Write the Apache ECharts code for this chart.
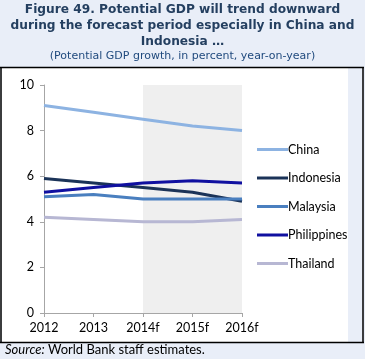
<!DOCTYPE html>
<html><head><meta charset="utf-8">
<script src="https://cdn.jsdelivr.net/npm/echarts@6/dist/echarts.min.js"></script>
<style>
html,body{margin:0;padding:0;background:#e9eef8;}
#c{width:365px;height:359px;}
</style></head>
<body><div id="c"></div>
<script>
const categories = ['2012','2013','2014f','2015f','2016f'];
const china = [9.1, 8.8, 8.5, 8.2, 8.0];
const indonesia = [5.9, 5.7, 5.5, 5.3, 4.9];
const malaysia = [5.1, 5.2, 5.0, 5.0, 5.0];
const philippines = [5.3, 5.5, 5.7, 5.8, 5.7];
const thailand = [4.2, 4.1, 4.0, 4.0, 4.1];
const yTicks = [0, 2, 4, 6, 8, 10];
const forecastRange = ['2014f', '2016f'];

const names = ['China','Indonesia','Malaysia','Philippines','Thailand'];
const datas = [china, indonesia, malaysia, philippines, thailand];
const colors = ['#8db3e2','#1b3358','#4a7fbf','#1010a0','#b7b7d3'];
const font = 'Lato, "Open Sans", sans-serif';

const chart = echarts.init(document.getElementById('c'));
const series = names.map((n,i)=>({
  name:n, type:'line', data:datas[i], symbol:'none', smooth:false,
  lineStyle:{width:3,color:colors[i]}, itemStyle:{color:colors[i]},
  z: 3 + i
}));
series[0].markArea = {silent:true, itemStyle:{color:'#efefef'}, data:[[{xAxis:forecastRange[0]},{xAxis:forecastRange[1]}]]};

chart.setOption({
  animation:false,
  backgroundColor:'transparent',
  graphic:[
    {type:'rect', shape:{x:2,y:68,width:346,height:274}, style:{fill:'#ffffff'}, z:-10, silent:true},
    {type:'line', shape:{x1:0,y1:67.5,x2:364,y2:67.5}, style:{stroke:'#000',lineWidth:1.5}, silent:true},
    {type:'line', shape:{x1:1,y1:67,x2:1,y2:343}, style:{stroke:'#000',lineWidth:1.5}, silent:true},
    {type:'line', shape:{x1:363,y1:67,x2:363,y2:343}, style:{stroke:'#000',lineWidth:1.5}, silent:true},
    {type:'line', shape:{x1:0,y1:342.5,x2:364,y2:342.5}, style:{stroke:'#000',lineWidth:1.5}, silent:true},
    {type:'text', left:'center', top:2, style:{text:'Figure 49. Potential GDP will trend downward\nduring the forecast period especially in China and\nIndonesia …', font:'bold 12.2px "DejaVu Sans", sans-serif', fill:'#243f60', textAlign:'center', lineHeight:16}},
    {type:'text', left:'center', top:51, style:{text:'(Potential GDP growth, in percent, year-on-year)', font:'11px "DejaVu Sans", sans-serif', fill:'#1f497d', textAlign:'center'}},
    {type:'text', left:5, top:343, style:{rich:{i:{fontStyle:'italic',fontSize:13,fontFamily:font,fill:'#000'},n:{fontSize:13,fontFamily:font,fill:'#000'}}, text:'{i|Source:} {n|World Bank staff estimates.}'}}
  ],
  grid:{left:44, right:123, top:85, bottom:46, containLabel:false},
  legend:{
    orient:'vertical', left:252, top:138, itemWidth:31, itemHeight:3, itemGap:15.5, icon:'rect',
    textStyle:{fontFamily:font, fontSize:12.5, color:'#000', padding:[0,0,0,-5]},
    data:names
  },
  xAxis:{
    type:'category', data:categories, boundaryGap:false,
    axisLine:{lineStyle:{color:'#a6a6a6'}},
    axisTick:{show:true, length:4, lineStyle:{color:'#a6a6a6'}},
    axisLabel:{color:'#000', fontFamily:font, fontSize:12.5, margin:8}
  },
  yAxis:{
    type:'value', min:0, max:10, interval:2,
    axisLine:{show:true, lineStyle:{color:'#a6a6a6'}},
    axisTick:{show:true, length:4, lineStyle:{color:'#a6a6a6'}},
    splitLine:{show:false},
    axisLabel:{color:'#000', fontFamily:font, fontSize:12.5, margin:10,
      formatter:v=> yTicks.includes(v) ? String(v) : ''}
  },
  series:series
});
</script></body></html>
